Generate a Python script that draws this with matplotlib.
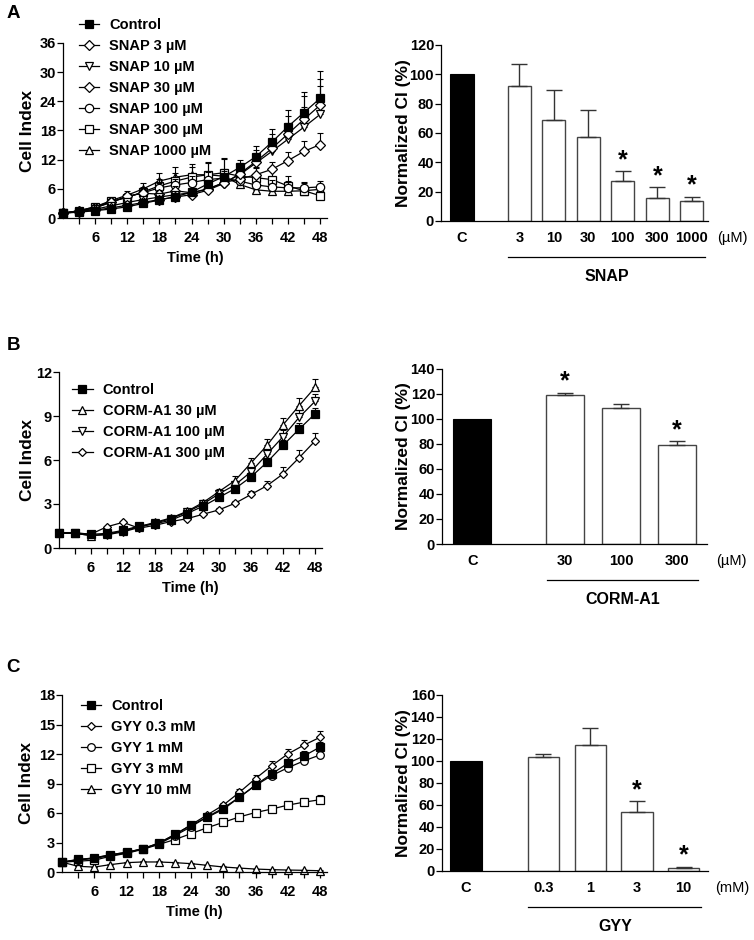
import numpy as np
import matplotlib
matplotlib.use('Agg')
import matplotlib.pyplot as plt

plt.rcParams['font.family'] = ['Liberation Sans', 'DejaVu Sans']
plt.rcParams['font.weight'] = 'bold'
plt.rcParams['axes.labelweight'] = 'bold'
plt.rcParams['axes.linewidth'] = 0.9

# ---- time course data (Cell Index) ----
time_h = [0, 3, 6, 9, 12, 15, 18, 21, 24, 27, 30, 33, 36, 39, 42, 45, 48]

a_names = ['Control', 'SNAP 3 µM', 'SNAP 10 µM', 'SNAP 30 µM',
           'SNAP 100 µM', 'SNAP 300 µM', 'SNAP 1000 µM']
a_control = [1.0, 1.2, 1.5, 1.85, 2.3, 3.0, 3.7, 4.4, 5.3, 7.0, 8.5, 10.4, 12.6, 15.6, 18.8, 21.7, 24.6]
a_snap3 = [1.0, 1.3, 1.6, 2.1, 2.6, 3.2, 3.8, 4.3, 4.8, 5.7, 7.1, 9.1, 11.6, 14.3, 17.3, 20.3, 23.2]
a_snap10 = [1.0, 1.3, 1.8, 2.5, 3.2, 3.8, 4.3, 4.8, 5.2, 6.0, 7.2, 8.9, 11.3, 13.7, 16.2, 18.7, 21.3]
a_snap30 = [1.0, 1.4, 2.1, 3.2, 4.5, 5.1, 4.9, 5.6, 5.2, 5.9, 7.3, 8.0, 8.9, 10.0, 11.8, 13.7, 15.1]
a_snap100 = [1.0, 1.4, 2.1, 3.3, 4.4, 5.2, 6.2, 6.8, 7.3, 7.9, 8.2, 7.6, 6.8, 6.4, 6.2, 6.2, 6.4]
a_snap300 = [1.0, 1.5, 2.3, 3.4, 4.2, 5.4, 6.6, 7.6, 8.4, 8.9, 9.3, 8.6, 8.3, 7.9, 6.6, 5.6, 4.6]
a_snap1000 = [1.0, 1.5, 2.3, 3.6, 4.7, 6.0, 7.6, 8.4, 8.9, 8.9, 8.6, 6.9, 5.8, 5.5, 5.5, 5.6, 5.9]
a_control_err = [0.1, 0.1, 0.2, 0.3, 0.3, 0.4, 0.5, 0.5, 0.7, 0.9, 1.2, 1.6, 2.2, 2.8, 3.4, 4.3, 4.0]
a_snap3_err = [0.1, 0.2, 0.2, 0.3, 0.3, 0.4, 0.5, 0.6, 0.7, 0.9, 1.2, 1.6, 2.4, 3.0, 3.7, 4.8, 7.0]
a_snap10_err = [0.1, 0.2, 0.2, 0.3, 0.4, 0.5, 0.5, 0.6, 0.7, 0.8, 1.1, 1.5, 2.0, 2.6, 3.3, 4.1, 5.8]
a_snap30_err = [0.1, 0.2, 0.3, 0.4, 0.6, 0.8, 0.9, 1.0, 1.0, 1.0, 1.1, 1.2, 1.4, 1.6, 1.8, 2.1, 2.4]
a_snap100_err = [0.1, 0.2, 0.3, 0.4, 0.6, 0.8, 1.0, 1.2, 1.4, 1.6, 1.8, 1.7, 1.6, 1.5, 1.4, 1.2, 1.2]
a_snap300_err = [0.1, 0.2, 0.3, 0.5, 0.7, 1.0, 1.4, 1.7, 2.0, 2.4, 3.0, 2.8, 2.2, 1.9, 2.1, 1.6, 1.5]
a_snap1000_err = [0.1, 0.2, 0.3, 0.5, 0.9, 1.3, 1.6, 2.1, 2.3, 2.6, 3.6, 2.5, 2.3, 1.6, 1.2, 1.0, 0.9]

b_names = ['Control', 'CORM-A1 30 µM', 'CORM-A1 100 µM', 'CORM-A1 300 µM']
b_control = [1.05, 1.05, 0.93, 1.0, 1.2, 1.5, 1.65, 1.9, 2.35, 2.85, 3.45, 4.05, 4.85, 5.85, 7.0, 8.1, 9.15]
b_corm30 = [1.0, 1.0, 0.85, 0.95, 1.15, 1.45, 1.75, 2.05, 2.5, 3.1, 3.85, 4.6, 5.8, 7.0, 8.4, 9.7, 10.95]
b_corm100 = [1.0, 1.0, 0.85, 0.9, 1.1, 1.4, 1.7, 2.0, 2.45, 3.0, 3.7, 4.3, 5.2, 6.4, 7.6, 8.9, 10.0]
b_corm300 = [1.0, 1.0, 0.95, 1.45, 1.75, 1.35, 1.55, 1.8, 2.0, 2.3, 2.6, 3.05, 3.65, 4.25, 5.05, 6.15, 7.3]
b_control_err = [0.03, 0.03, 0.05, 0.05, 0.06, 0.07, 0.08, 0.1, 0.12, 0.14, 0.16, 0.2, 0.25, 0.3, 0.35, 0.4, 0.4]
b_corm30_err = [0.03, 0.03, 0.05, 0.05, 0.06, 0.07, 0.08, 0.1, 0.12, 0.15, 0.2, 0.3, 0.35, 0.45, 0.45, 0.5, 0.55]
b_corm100_err = [0.03, 0.03, 0.05, 0.05, 0.06, 0.07, 0.08, 0.1, 0.12, 0.15, 0.2, 0.25, 0.3, 0.4, 0.45, 0.5, 0.5]
b_corm300_err = [0.03, 0.03, 0.05, 0.08, 0.08, 0.07, 0.08, 0.1, 0.12, 0.12, 0.15, 0.15, 0.25, 0.3, 0.45, 0.55, 0.55]

c_names = ['Control', 'GYY 0.3 mM', 'GYY 1 mM', 'GYY 3 mM', 'GYY 10 mM']
c_control = [1.0, 1.29, 1.39, 1.76, 2.0, 2.37, 2.92, 3.83, 4.75, 5.56, 6.37, 7.6, 8.85, 9.97, 11.05, 11.8, 12.7]
c_gyy03 = [1.0, 1.25, 1.45, 1.75, 2.0, 2.35, 2.95, 3.8, 4.8, 5.8, 6.8, 8.1, 9.5, 10.8, 12.0, 12.9, 13.7]
c_gyy1 = [1.0, 1.2, 1.4, 1.65, 1.95, 2.35, 2.85, 3.7, 4.6, 5.6, 6.5, 7.6, 8.8, 9.8, 10.6, 11.3, 11.9]
c_gyy3 = [1.0, 1.1, 1.2, 1.6, 1.9, 2.3, 2.8, 3.3, 3.9, 4.5, 5.05, 5.6, 6.05, 6.4, 6.8, 7.1, 7.35]
c_gyy10 = [1.0, 0.58, 0.5, 0.75, 0.95, 1.02, 1.02, 0.95, 0.85, 0.68, 0.51, 0.4, 0.3, 0.24, 0.2, 0.17, 0.13]
c_control_err = [0.05, 0.05, 0.05, 0.06, 0.07, 0.08, 0.1, 0.12, 0.15, 0.2, 0.25, 0.3, 0.35, 0.4, 0.45, 0.5, 0.5]
c_gyy03_err = [0.05, 0.05, 0.05, 0.06, 0.07, 0.08, 0.1, 0.12, 0.15, 0.2, 0.25, 0.3, 0.4, 0.5, 0.55, 0.55, 0.6]
c_gyy1_err = [0.05, 0.05, 0.05, 0.06, 0.07, 0.08, 0.1, 0.12, 0.15, 0.2, 0.25, 0.3, 0.35, 0.4, 0.4, 0.4, 0.4]
c_gyy3_err = [0.05, 0.05, 0.05, 0.06, 0.07, 0.08, 0.1, 0.12, 0.15, 0.2, 0.25, 0.3, 0.35, 0.4, 0.45, 0.45, 0.45]
c_gyy10_err = [0.05, 0.05, 0.05, 0.05, 0.05, 0.05, 0.05, 0.05, 0.05, 0.05, 0.05, 0.05, 0.05, 0.05, 0.05, 0.05, 0.05]

# ---- normalized CI bars ----
a_bar_labels = ['3', '10', '30', '100', '300', '1000']
a_bar_vals = [92, 69, 57, 27, 16, 13.5]
a_bar_err = [15, 20.5, 18.5, 7, 7, 3]
a_bar_sig = [False, False, False, True, True, True]

b_bar_labels = ['30', '100', '300']
b_bar_vals = [119, 108.5, 79.5]
b_bar_err = [2, 3.5, 2.5]
b_bar_sig = [True, False, True]

c_bar_labels = ['0.3', '1', '3', '10']
c_bar_vals = [104, 115, 54, 3]
c_bar_err = [2, 15, 9.5, 1]
c_bar_sig = [False, False, True, True]

control_value = 100

W, H = 754, 940
fig = plt.figure(figsize=(W / 100, H / 100), dpi=100)


def px_axes(left, right, bottom, top):
    return fig.add_axes([left / W, 1 - bottom / H, (right - left) / W, (bottom - top) / H])


def ylabel_at(ax, text, x_px):
    # y label anchor is its right edge once rotated, so shift by half its height
    ax.set_ylabel(text, fontsize=12.5)
    bbox = ax.get_position()
    ax.yaxis.set_label_coords(((x_px + 7) / W - bbox.x0) / bbox.width, 0.5)


def line_panel(ax, series, errs, names, markers, ymax, ystep, ms, legend_xy, label_x):
    for y, e, name, (mk, fc) in reversed(list(zip(series, errs, names, markers))):
        size = ms * 0.8 if mk == 'D' else ms
        ax.errorbar(time_h, y, yerr=[np.zeros(len(e)), e], fmt='none', ecolor='black',
                    elinewidth=0.8, capsize=2.5, capthick=0.8, clip_on=False)
        ax.plot(time_h, y, color='black', lw=0.9, marker=mk, ms=size, mfc=fc, mec='black',
                mew=0.9, label=name, clip_on=False)
    ax.set_xlim(0, 49.3)
    ax.set_ylim(0, ymax)
    ax.set_xticks(time_h[1:])
    ax.set_xticklabels([str(t) if t % 6 == 0 else '' for t in time_h[1:]])
    ax.set_yticks(np.arange(0, ymax + 0.1, ystep))
    ax.tick_params(axis='x', length=4, width=0.9, pad=5, labelsize=10.5)
    ax.tick_params(axis='y', length=4, width=0.9, pad=1, labelsize=10.5)
    for s in ['top', 'right']:
        ax.spines[s].set_visible(False)
    ylabel_at(ax, 'Cell Index', label_x)
    ax.set_xlabel('Time (h)', fontsize=10.5, labelpad=5)
    handles, labels = ax.get_legend_handles_labels()
    ax.legend(handles[::-1], labels[::-1], loc='upper left', bbox_to_anchor=legend_xy,
              frameon=False, fontsize=10.5, handlelength=1.4, handletextpad=0.7,
              labelspacing=0.47, borderpad=0, borderaxespad=0)


def bar_panel(ax, labels, vals, errs, sig, ymax, ystep, xlim, unit, group):
    gap = 1.66
    width = 0.67
    pos = [gap + i for i in range(len(vals))]
    ax.bar([0], [control_value], width=width, color='black', edgecolor='black', lw=0.8)
    ax.bar(pos, vals, width=width, color='white', edgecolor='#444444', lw=1.0)
    ax.errorbar(pos, vals, yerr=[np.zeros(len(errs)), errs], fmt='none', ecolor='#333333',
                elinewidth=1.0, capsize=6, capthick=1.0)
    for p, v, e, s in zip(pos, vals, errs, sig):
        if s:
            ax.annotate('*', (p, v + e), xytext=(0, 8), textcoords='offset points',
                        ha='center', va='center', fontsize=18)
    ax.set_xlim(*xlim)
    ax.set_ylim(0, ymax)
    ax.set_yticks(np.arange(0, ymax + 0.1, ystep))
    ax.set_xticks([0] + pos)
    ax.set_xticklabels(['C'] + labels)
    ax.tick_params(axis='x', length=0, pad=7, labelsize=10.5)
    ax.tick_params(axis='y', length=4, width=0.9, pad=1, labelsize=10.5)
    for s in ['top', 'right']:
        ax.spines[s].set_visible(False)
    ylabel_at(ax, 'Normalized CI (%)', 404)
    trans = ax.get_xaxis_transform()
    ax.plot([pos[0] - 0.33, pos[-1] + 0.38], [-0.205, -0.205], color='black', lw=0.9,
            transform=trans, clip_on=False)
    ax.text((pos[0] + pos[-1]) / 2 + 0.03, -0.318, group, transform=trans, ha='center',
            va='center', fontsize=11.5)
    ax.text(1.093, -0.097, unit, transform=ax.transAxes, ha='center', va='center',
            fontsize=10.5, fontweight='normal')


# Panel A
ax = px_axes(63, 327, 218, 43)
line_panel(ax,
           [a_control, a_snap3, a_snap10, a_snap30, a_snap100, a_snap300, a_snap1000],
           [a_control_err, a_snap3_err, a_snap10_err, a_snap30_err, a_snap100_err,
            a_snap300_err, a_snap1000_err],
           a_names,
           [('s', 'black'), ('D', 'white'), ('v', 'white'), ('D', 'white'),
            ('o', 'white'), ('s', 'white'), ('^', 'white')],
           36, 6, 6.0, (0.06, 1.14), 28)
ax = px_axes(441, 708, 221, 45)
bar_panel(ax, a_bar_labels, a_bar_vals, a_bar_err, a_bar_sig, 120, 20,
          (-0.61, 7.13), '(µM)', 'SNAP')

# Panel B
ax = px_axes(59, 322, 548, 372)
line_panel(ax, [b_control, b_corm30, b_corm100, b_corm300],
           [b_control_err, b_corm30_err, b_corm100_err, b_corm300_err],
           b_names,
           [('s', 'black'), ('^', 'white'), ('v', 'white'), ('D', 'white')],
           12, 3, 5.5, (0.05, 0.935), 28)
ax = px_axes(442, 707, 544, 369)
bar_panel(ax, b_bar_labels, b_bar_vals, b_bar_err, b_bar_sig, 140, 20,
          (-0.54, 4.2), '(µM)', 'CORM-A1')

# Panel C
ax = px_axes(62, 327, 872, 695)
line_panel(ax, [c_control, c_gyy03, c_gyy1, c_gyy3, c_gyy10],
           [c_control_err, c_gyy03_err, c_gyy1_err, c_gyy3_err, c_gyy10_err],
           c_names,
           [('s', 'black'), ('D', 'white'), ('o', 'white'), ('s', 'white'), ('^', 'white')],
           18, 3, 5.5, (0.07, 0.975), 27)
ax = px_axes(442, 708, 871, 695)
bar_panel(ax, c_bar_labels, c_bar_vals, c_bar_err, c_bar_sig, 160, 20,
          (-0.51, 5.18), '(mM)', 'GYY')

for letter, y in [('A', 14), ('B', 345), ('C', 667)]:
    fig.text(13 / W, 1 - y / H, letter, ha='center', va='center', fontsize=13.5,
             fontweight='bold')

fig.savefig('out.png', dpi=100)
